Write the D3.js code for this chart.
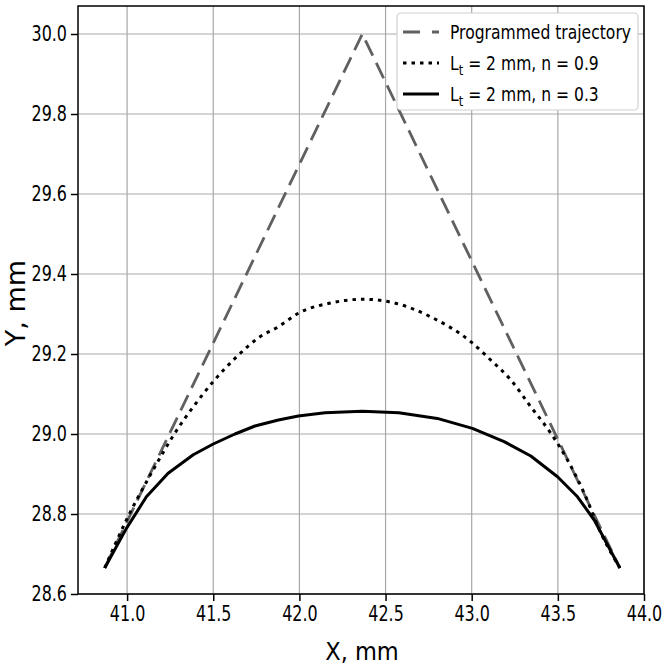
<!DOCTYPE html>
<html>
<head>
<meta charset="utf-8">
<script src="https://cdn.jsdelivr.net/npm/d3@7"></script>
<style>
  body { margin: 0; background: #fff; }
  svg text { font-family: "DejaVu Sans", sans-serif; fill: #000; }
</style>
</head>
<body>
<div id="chart"></div>
<script>
// programmed trajectory (corner)
const progX = [40.87, 42.365, 43.86];
const progY = [28.665, 30.0, 28.665];

// Lt = 2 mm, n = 0.9
const n09X = [40.87, 40.996, 41.151, 41.277, 41.384, 41.5, 41.626, 41.771, 41.878, 41.994, 42.188, 42.365,
  42.548, 42.762, 42.994, 43.11, 43.227, 43.343, 43.459, 43.556, 43.653, 43.75, 43.86];
const n09Y = [28.665, 28.785, 28.91, 29.002, 29.068, 29.131, 29.189, 29.243, 29.268, 29.302, 29.328, 29.337,
  29.328, 29.293, 29.231, 29.185, 29.135, 29.068, 29.002, 28.935, 28.852, 28.752, 28.665];

// Lt = 2 mm, n = 0.3
const n03X = [40.87, 40.996, 41.112, 41.238, 41.384, 41.5, 41.626, 41.742, 41.878, 41.994, 42.149, 42.365,
  42.577, 42.8, 43.004, 43.188, 43.343, 43.498, 43.614, 43.711, 43.86];
const n03Y = [28.665, 28.764, 28.843, 28.902, 28.948, 28.975, 29.0, 29.02, 29.035, 29.045, 29.053, 29.057,
  29.053, 29.039, 29.014, 28.981, 28.945, 28.893, 28.843, 28.785, 28.665];

const xTicks = [41.0, 41.5, 42.0, 42.5, 43.0, 43.5, 44.0];
const yTicks = [28.6, 28.8, 29.0, 29.2, 29.4, 29.6, 29.8, 30.0];

const width = 663, height = 668;
const margin = {top: 6, right: 19, bottom: 74, left: 78};

const svg = d3.select('#chart').append('svg')
  .attr('width', width)
  .attr('height', height);

const x = d3.scaleLinear().domain([40.715, 44.0]).range([margin.left, width - margin.right]);
const y = d3.scaleLinear().domain([28.6, 30.07]).range([height - margin.bottom, margin.top]);

// grid
svg.append('g').selectAll('line').data(xTicks).join('line')
  .attr('x1', d => x(d)).attr('x2', d => x(d))
  .attr('y1', y.range()[0]).attr('y2', y.range()[1])
  .attr('stroke', '#a8a8a8').attr('stroke-width', 1.2);
svg.append('g').selectAll('line').data(yTicks).join('line')
  .attr('y1', d => y(d)).attr('y2', d => y(d))
  .attr('x1', x.range()[0]).attr('x2', x.range()[1])
  .attr('stroke', '#a8a8a8').attr('stroke-width', 1.2);

// axes
const tickSx = 0.76;
const xAxis = svg.append('g')
  .attr('transform', `translate(0,${height - margin.bottom})`)
  .call(d3.axisBottom(x).tickValues(xTicks).tickFormat(d3.format('.1f')).tickSizeOuter(0).tickSize(7).tickPadding(5));
const yAxis = svg.append('g')
  .attr('transform', `translate(${margin.left},0)`)
  .call(d3.axisLeft(y).tickValues(yTicks).tickFormat(d3.format('.1f')).tickSizeOuter(0).tickSize(7).tickPadding(4));

[xAxis, yAxis].forEach(g => {
  g.select('.domain').remove();
  g.selectAll('.tick line').attr('stroke', '#000').attr('stroke-width', 1.5);
  g.selectAll('.tick text').style('font-size', '21px').attr('fill', '#000');
});
yAxis.selectAll('.tick text')
  .attr('x', -11 / tickSx)
  .attr('transform', `scale(${tickSx},1)`);
xAxis.selectAll('.tick text')
  .attr('transform', `scale(${tickSx},1)`);

// lines
const line = (xs, ys) => d3.line()
  .x((d, i) => x(xs[i]))
  .y((d, i) => y(ys[i]))(xs);

svg.append('path')
  .attr('d', line(progX, progY))
  .attr('fill', 'none')
  .attr('stroke', '#606060')
  .attr('stroke-width', 2.8)
  .attr('stroke-dasharray', '17,8');

svg.append('path')
  .attr('d', d3.line().curve(d3.curveMonotoneX)
    .x((d, i) => x(n09X[i])).y((d, i) => y(n09Y[i]))(n09X))
  .attr('fill', 'none')
  .attr('stroke', '#000')
  .attr('stroke-width', 3)
  .attr('stroke-dasharray', '3.5,5');

svg.append('path')
  .attr('d', line(n03X, n03Y))
  .attr('fill', 'none')
  .attr('stroke', '#000')
  .attr('stroke-width', 3)
  .attr('stroke-linejoin', 'round');

// frame
svg.append('rect')
  .attr('x', margin.left).attr('y', margin.top)
  .attr('width', width - margin.left - margin.right)
  .attr('height', height - margin.top - margin.bottom)
  .attr('fill', 'none').attr('stroke', '#000').attr('stroke-width', 1.5);

// axis titles
svg.append('text')
  .attr('transform', `translate(${(x.range()[0] + x.range()[1]) / 2 + 1},${height - 8}) scale(0.9,1)`)
  .attr('text-anchor', 'middle')
  .style('font-size', '25px')
  .text('X, mm');

svg.append('text')
  .attr('transform', `translate(25,${(y.range()[0] + y.range()[1]) / 2 + 3}) rotate(-90)`)
  .attr('text-anchor', 'middle')
  .style('font-size', '27px')
  .text('Y, mm');

// legend
const legend = svg.append('g');
legend.append('rect')
  .attr('x', 397).attr('y', 13).attr('width', 241).attr('height', 97)
  .attr('rx', 4)
  .attr('fill', '#fff').attr('stroke', '#d0d0d0').attr('stroke-width', 1.2);

const legendItems = [
  {name: 'prog', color: '#606060', dash: '17,12'},
  {name: 'n09', color: '#000', dash: '3.5,5'},
  {name: 'n03', color: '#000', dash: null}
];
const legendSx = 0.82;
legendItems.forEach((item, i) => {
  const cy = 32 + i * 31;
  legend.append('line')
    .attr('x1', 403).attr('x2', 439).attr('y1', cy).attr('y2', cy)
    .attr('stroke', item.color).attr('stroke-width', 3)
    .attr('stroke-dasharray', item.dash);
  const t = legend.append('text')
    .attr('transform', `translate(450,${cy + 7}) scale(${legendSx},1)`)
    .style('font-size', '19px');
  if (i === 0) {
    t.text('Programmed trajectory');
  } else {
    t.append('tspan').text('L');
    t.append('tspan').attr('dy', 5).style('font-size', '14px').text('t');
    t.append('tspan').attr('dy', -5).text(i === 1 ? ' = 2 mm, n = 0.9' : ' = 2 mm, n = 0.3');
  }
});
</script>
</body>
</html>
